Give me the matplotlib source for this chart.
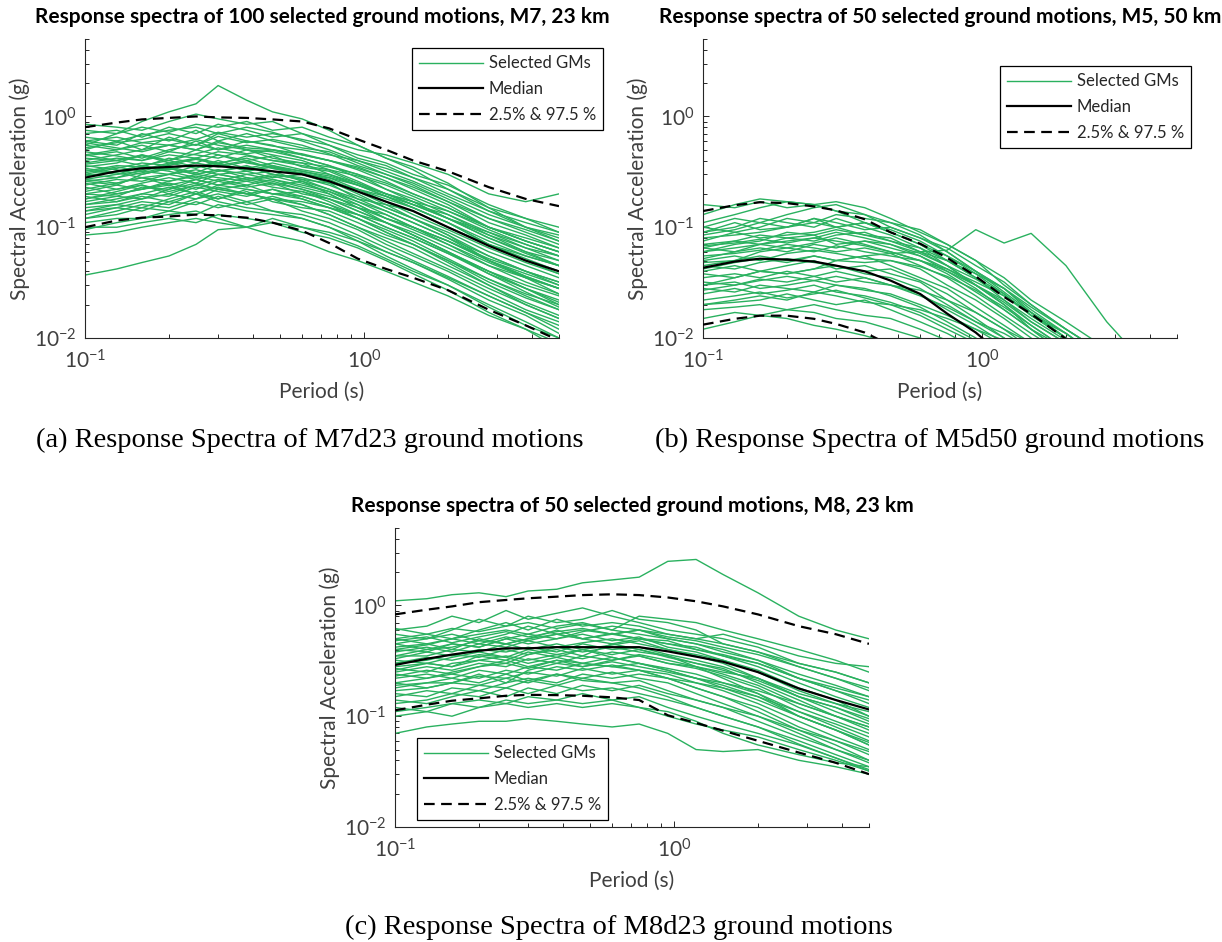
import matplotlib
matplotlib.use("Agg")
import matplotlib.pyplot as plt
from matplotlib.ticker import LogLocator, LogFormatterSciNotation, NullFormatter

# ---------------- data ----------------
T_GRID = [0.1, 0.13, 0.16, 0.2, 0.25, 0.3, 0.38, 0.47, 0.6, 0.75, 0.95, 1.2, 1.5, 2.0, 2.8, 3.8, 5.0]

MED_A = [.28, .32, .34, .35, .36, .355, .34, .32, .30, .26, .21, .17, .14, .10, .068, .05, .04]
P975_A = [.8, .88, .94, .97, 1.0, .98, .97, .94, .9, .78, .62, .5, .4, .32, .23, .18, .155]
P025_A = [.1, .115, .122, .125, .13, .128, .122, .11, .093, .072, .052, .042, .035, .027, .018, .013, .0095]
GM_A = [
    [.55, .7, .9, 1.1, 1.3, 1.9, 1.4, 1.1, .95, .75, .55, .42, .35, .25, .15, .1, .08],
    [.85, .8, .75, .9, 1.05, .95, .85, .9, .7, .6, .5, .45, .38, .3, .2, .17, .2],
    [.7, .75, .65, .8, .7, .85, .75, .65, .7, .55, .42, .36, .28, .22, .15, .12, .1],
    [.6, .55, .7, .6, .75, .6, .7, .6, .52, .48, .38, .3, .25, .18, .12, .09, .07],
    [.5, .6, .5, .65, .55, .7, .6, .55, .45, .4, .33, .26, .2, .15, .1, .075, .06],
    [.45, .5, .55, .48, .6, .5, .55, .5, .42, .36, .3, .22, .18, .13, .085, .065, .05],
    [.4, .45, .5, .55, .5, .6, .5, .45, .4, .33, .26, .2, .16, .12, .08, .06, .045],
    [.38, .42, .4, .48, .45, .42, .5, .42, .38, .3, .24, .19, .15, .11, .07, .052, .04],
    [.35, .38, .45, .4, .5, .45, .4, .44, .35, .32, .25, .2, .17, .12, .09, .065, .055],
    [.32, .36, .35, .42, .38, .45, .38, .35, .32, .28, .22, .17, .13, .095, .065, .048, .038],
    [.3, .34, .38, .36, .42, .38, .42, .36, .3, .26, .2, .15, .12, .085, .055, .04, .03],
    [.3, .28, .33, .38, .34, .4, .34, .38, .33, .3, .25, .2, .16, .12, .085, .06, .05],
    [.27, .3, .32, .3, .36, .32, .35, .3, .28, .24, .19, .15, .12, .09, .06, .045, .035],
    [.26, .24, .3, .34, .3, .33, .3, .32, .26, .22, .17, .13, .1, .075, .05, .036, .028],
    [.24, .27, .26, .3, .33, .3, .32, .28, .3, .26, .22, .18, .15, .11, .075, .055, .045],
    [.22, .25, .28, .26, .3, .28, .26, .29, .25, .21, .16, .12, .095, .07, .045, .032, .025],
    [.2, .22, .25, .28, .25, .3, .27, .24, .26, .2, .15, .13, .1, .075, .05, .038, .03],
    [.2, .19, .23, .22, .27, .24, .28, .25, .22, .19, .16, .12, .1, .07, .048, .035, .028],
    [.18, .2, .22, .25, .22, .26, .23, .25, .2, .18, .14, .11, .085, .06, .04, .028, .022],
    [.17, .19, .18, .22, .25, .22, .24, .2, .21, .17, .13, .1, .08, .058, .04, .03, .024],
    [.16, .18, .2, .19, .23, .21, .19, .22, .18, .15, .12, .095, .075, .052, .034, .024, .018],
    [.15, .16, .18, .2, .18, .22, .2, .18, .16, .13, .1, .08, .065, .045, .03, .021, .016],
    [.14, .15, .17, .16, .2, .18, .21, .17, .15, .14, .11, .085, .07, .05, .032, .023, .018],
    [.13, .15, .14, .17, .16, .19, .16, .18, .14, .12, .095, .07, .055, .04, .026, .018, .014],
    [.12, .13, .15, .14, .17, .15, .17, .14, .13, .11, .085, .065, .05, .036, .024, .017, .012],
    [.11, .12, .12, .14, .13, .16, .14, .13, .12, .1, .08, .06, .048, .034, .022, .016, .011],
    [.095, .11, .12, .13, .14, .12, .1, .12, .1, .085, .068, .052, .04, .03, .02, .014, .01],
    [.085, .09, .1, .11, .12, .11, .1, .085, .075, .06, .05, .04, .032, .024, .016, .012, .009],
    [.037, .042, .048, .055, .07, .095, .1, .11, .1, .09, .075, .06, .048, .035, .024, .017, .013],
    [.65, .6, .68, .75, .8, .7, .8, .72, .6, .5, .4, .32, .26, .19, .13, .1, .085],
    [.55, .5, .58, .62, .55, .66, .58, .62, .55, .46, .36, .3, .24, .17, .11, .085, .065],
    [.48, .44, .4, .45, .42, .48, .45, .4, .38, .35, .3, .25, .2, .15, .1, .08, .065],
    [.42, .4, .36, .4, .35, .38, .32, .35, .3, .25, .18, .14, .11, .08, .05, .036, .028],
    [.36, .33, .3, .34, .3, .33, .28, .26, .22, .18, .14, .11, .085, .06, .04, .028, .02],
    [.25, .22, .24, .2, .24, .22, .2, .22, .19, .16, .12, .09, .07, .048, .03, .02, .015],
    [.19, .17, .19, .17, .2, .17, .15, .14, .12, .1, .075, .055, .042, .03, .019, .013, .01],
    [.33, .3, .35, .32, .28, .32, .36, .3, .27, .22, .18, .16, .14, .1, .07, .055, .045],
    [.45, .4, .45, .38, .42, .36, .4, .34, .3, .28, .24, .2, .17, .14, .1, .075, .06],
    [.23, .2, .22, .24, .2, .23, .2, .18, .17, .15, .13, .11, .09, .065, .045, .035, .028],
    [.6, .65, .58, .55, .62, .55, .5, .48, .42, .36, .28, .22, .17, .12, .08, .058, .045],
    [.75, .7, .8, .72, .85, .8, .9, .75, .8, .65, .55, .42, .33, .22, .14, .1, .075],
    [.52, .58, .62, .7, .62, .72, .65, .7, .62, .55, .45, .38, .3, .24, .16, .12, .09],
    [.44, .48, .42, .5, .56, .5, .6, .54, .5, .45, .4, .34, .28, .2, .14, .11, .09],
    [.37, .4, .44, .4, .46, .52, .46, .5, .46, .4, .35, .28, .22, .16, .1, .075, .06],
    [.31, .35, .32, .37, .41, .37, .44, .4, .36, .33, .29, .24, .19, .14, .095, .07, .055],
    [.29, .32, .36, .33, .38, .35, .39, .34, .31, .27, .21, .16, .12, .085, .05, .035, .025],
    [.26, .28, .31, .35, .31, .37, .33, .36, .32, .29, .24, .19, .15, .11, .07, .05, .038],
    [.21, .24, .22, .26, .29, .26, .3, .27, .24, .21, .17, .14, .11, .08, .055, .04, .032],
    [.18, .21, .24, .21, .24, .27, .24, .27, .23, .2, .15, .11, .085, .06, .038, .026, .019],
    [.16, .17, .2, .23, .2, .24, .22, .2, .19, .16, .13, .1, .08, .058, .038, .028, .021],
    [.14, .16, .15, .18, .21, .18, .22, .2, .18, .15, .12, .09, .07, .05, .034, .025, .02],
    [.12, .14, .16, .15, .18, .2, .17, .19, .16, .13, .1, .075, .058, .042, .028, .02, .015],
    [.1, .1, .11, .12, .11, .13, .12, .11, .09, .08, .065, .05, .038, .027, .017, .012, .008],
    [.58, .52, .48, .55, .5, .58, .52, .5, .45, .4, .34, .28, .23, .17, .12, .095, .075],
    [.34, .31, .28, .3, .27, .3, .27, .3, .27, .25, .22, .19, .16, .13, .09, .07, .055],
    [.27, .25, .28, .24, .27, .24, .26, .23, .21, .18, .15, .12, .1, .075, .052, .04, .032],
]

MED_B = [.043, .049, .052, .051, .049, .045, .04, .033, .025, .0166, .0112, .0068, .0042, .0022, .001, .0005, .0003]
P975_B = [.14, .158, .168, .165, .154, .142, .118, .09, .071, .053, .036, .0235, .0165, .0098, .0055, .003, .002]
P025_B = [.0132, .0149, .0159, .0159, .0149, .0134, .0112, .0086, .006, .004, .0025, .0015, .001, .0005, .0003, .0002, .0001]
GM_B = [
    [.13, .16, .18, .17, .16, .17, .15, .12, .09, .07, .05, .03, .02, .012, .007, .004, .003],
    [.11, .13, .15, .17, .16, .14, .11, .09, .07, .05, .035, .025, .016, .01, .006, .004, .003],
    [.1, .12, .11, .13, .15, .16, .13, .1, .08, .06, .04, .028, .018, .011, .006, .004, .003],
    [.09, .1, .12, .11, .1, .12, .1, .085, .065, .045, .03, .02, .013, .008, .005, .003, .002],
    [.08, .085, .09, .1, .11, .1, .11, .09, .07, .055, .04, .028, .017, .01, .006, .004, .003],
    [.075, .09, .08, .085, .09, .1, .085, .08, .06, .045, .03, .02, .012, .007, .004, .003, .002],
    [.07, .075, .085, .08, .075, .085, .09, .075, .06, .05, .035, .022, .014, .009, .005, .003, .002],
    [.065, .06, .07, .08, .085, .07, .075, .065, .055, .04, .028, .018, .012, .007, .004, .003, .002],
    [.06, .065, .07, .065, .072, .08, .07, .06, .05, .038, .026, .018, .012, .008, .005, .003, .002],
    [.055, .058, .062, .07, .065, .06, .065, .058, .045, .035, .024, .016, .011, .007, .004, .003, .002],
    [.05, .055, .05, .058, .062, .058, .052, .05, .042, .03, .022, .015, .01, .006, .004, .002, .0015],
    [.048, .05, .055, .05, .055, .05, .055, .045, .035, .028, .019, .013, .009, .006, .004, .002, .0015],
    [.045, .042, .048, .052, .048, .045, .04, .042, .033, .025, .017, .012, .008, .005, .003, .002, .0015],
    [.04, .045, .04, .045, .05, .042, .045, .038, .032, .022, .015, .01, .007, .004, .003, .002, .001],
    [.038, .035, .04, .038, .042, .045, .038, .035, .028, .02, .014, .011, .008, .005, .003, .002, .001],
    [.035, .038, .035, .04, .036, .04, .035, .03, .025, .018, .013, .009, .006, .004, .002, .0015, .001],
    [.032, .03, .034, .032, .036, .032, .035, .03, .024, .019, .014, .01, .007, .004, .0025, .0015, .001],
    [.03, .032, .028, .03, .033, .03, .027, .025, .02, .016, .012, .0085, .006, .004, .0025, .0015, .001],
    [.028, .026, .03, .028, .026, .03, .028, .024, .019, .014, .01, .007, .005, .003, .002, .001, .001],
    [.025, .028, .025, .027, .03, .026, .024, .021, .017, .013, .0095, .007, .005, .003, .002, .001, .001],
    [.022, .024, .026, .023, .025, .027, .023, .02, .016, .012, .009, .006, .004, .0025, .0015, .001, .001],
    [.02, .021, .022, .025, .022, .02, .022, .018, .014, .011, .008, .006, .004, .0025, .0015, .001, .001],
    [.018, .019, .02, .018, .02, .018, .016, .015, .012, .0095, .007, .005, .0035, .002, .0015, .001, .001],
    [.015, .017, .016, .018, .017, .015, .014, .012, .01, .008, .006, .004, .003, .002, .001, .001, .001],
    [.012, .014, .016, .015, .013, .012, .0105, .009, .007, .005, .004, .003, .002, .001, .001, .001, .001],
    [.03, .035, .04, .038, .042, .05, .055, .058, .06, .062, .095, .072, .088, .045, .014, .006, .004],
    [.1, .09, .1, .12, .11, .13, .12, .11, .095, .07, .05, .035, .022, .014, .008, .005, .003],
    [.085, .095, .11, .1, .12, .11, .095, .1, .08, .065, .045, .032, .02, .012, .007, .004, .003],
    [.06, .07, .075, .09, .085, .095, .085, .075, .065, .05, .038, .028, .019, .012, .007, .004, .003],
    [.052, .06, .065, .06, .07, .065, .075, .07, .058, .045, .034, .024, .016, .011, .006, .004, .003],
    [.045, .05, .06, .065, .06, .068, .06, .055, .05, .042, .032, .024, .017, .011, .006, .004, .003],
    [.065, .075, .07, .075, .08, .075, .068, .06, .05, .04, .03, .022, .015, .0095, .006, .004, .002],
    [.16, .15, .17, .15, .16, .14, .13, .11, .085, .06, .04, .026, .017, .01, .006, .004, .003],
    [.09, .11, .095, .1, .12, .1, .11, .095, .075, .055, .038, .025, .016, .01, .006, .004, .003],
    [.068, .072, .078, .072, .08, .09, .08, .07, .055, .042, .03, .021, .014, .009, .005, .003, .002],
    [.042, .048, .052, .048, .055, .05, .048, .05, .044, .036, .027, .019, .013, .008, .005, .003, .002],
    [.027, .03, .033, .036, .033, .036, .032, .03, .027, .022, .017, .012, .009, .006, .004, .003, .002],
    [.02, .022, .024, .022, .026, .024, .021, .02, .018, .015, .012, .0095, .007, .005, .003, .002, .001],
]

MED_C = [.29, .33, .36, .39, .41, .41, .42, .42, .42, .42, .385, .345, .31, .25, .178, .14, .115]
P975_C = [.83, .915, .98, 1.07, 1.12, 1.16, 1.2, 1.24, 1.26, 1.24, 1.18, 1.09, .98, .83, .65, .55, .45]
P025_C = [.113, .127, .138, .145, .153, .156, .155, .153, .148, .14, .102, .087, .074, .06, .047, .038, .03]
GM_C = [
    [1.1, 1.15, 1.25, 1.3, 1.2, 1.35, 1.4, 1.6, 1.7, 1.8, 2.5, 2.6, 1.9, 1.3, .8, .6, .5],
    [.07, .08, .085, .09, .09, .095, .09, .085, .08, .085, .07, .05, .048, .05, .04, .035, .03],
    [.6, .65, .8, .7, .9, .75, .85, .95, .8, .7, .6, .55, .5, .42, .3, .25, .2],
    [.55, .5, .6, .75, .65, .8, .7, .75, .9, .75, .7, .6, .45, .38, .28, .22, .18],
    [.5, .55, .5, .6, .7, .6, .75, .65, .7, .65, .55, .5, .55, .45, .35, .3, .28],
    [.45, .5, .55, .48, .55, .65, .55, .6, .55, .6, .5, .45, .38, .32, .22, .17, .13],
    [.42, .45, .4, .5, .45, .5, .6, .5, .55, .5, .45, .42, .35, .28, .2, .15, .12],
    [.4, .38, .45, .42, .5, .45, .5, .55, .48, .52, .42, .38, .32, .26, .18, .14, .1],
    [.38, .42, .38, .45, .42, .48, .42, .46, .5, .45, .4, .35, .3, .22, .15, .11, .085],
    [.35, .35, .4, .38, .45, .4, .45, .4, .44, .48, .4, .36, .32, .25, .17, .13, .1],
    [.33, .38, .35, .4, .38, .42, .38, .45, .4, .42, .36, .32, .28, .22, .15, .12, .09],
    [.3, .32, .36, .34, .4, .36, .42, .38, .42, .38, .35, .3, .27, .2, .14, .1, .075],
    [.28, .3, .28, .35, .32, .38, .34, .4, .36, .4, .34, .3, .26, .21, .15, .12, .095],
    [.27, .25, .3, .32, .35, .32, .36, .33, .38, .35, .3, .27, .23, .18, .12, .09, .07],
    [.25, .28, .26, .3, .28, .33, .3, .35, .32, .36, .32, .28, .24, .19, .13, .1, .08],
    [.24, .22, .25, .28, .3, .27, .32, .3, .34, .3, .27, .24, .2, .16, .11, .08, .06],
    [.22, .24, .22, .26, .24, .28, .26, .3, .28, .3, .26, .22, .19, .15, .1, .075, .058],
    [.2, .22, .24, .22, .26, .24, .28, .26, .29, .26, .24, .2, .17, .13, .09, .065, .05],
    [.19, .2, .2, .23, .22, .25, .23, .27, .24, .26, .22, .18, .15, .12, .08, .06, .045],
    [.17, .18, .2, .19, .22, .2, .24, .22, .25, .22, .2, .16, .13, .1, .07, .05, .04],
    [.15, .17, .16, .19, .18, .21, .19, .22, .2, .21, .17, .14, .12, .09, .065, .05, .038],
    [.13, .14, .16, .15, .18, .16, .19, .17, .18, .16, .14, .12, .1, .08, .06, .045, .035],
    [.12, .11, .13, .14, .13, .15, .14, .16, .14, .15, .12, .1, .085, .07, .055, .042, .033],
    [.1, .11, .1, .12, .13, .12, .13, .12, .13, .12, .1, .085, .075, .065, .05, .04, .032],
    [.5, .45, .5, .55, .6, .55, .65, .7, .6, .8, .75, .7, .6, .5, .4, .32, .25],
    [.35, .4, .45, .42, .5, .55, .5, .58, .65, .6, .55, .5, .45, .38, .3, .25, .2],
    [.26, .3, .28, .32, .3, .36, .4, .35, .45, .5, .45, .4, .35, .3, .22, .18, .15],
    [.2, .18, .2, .24, .2, .26, .3, .28, .32, .35, .3, .28, .25, .22, .16, .13, .11],
    [.16, .15, .18, .17, .2, .22, .2, .24, .22, .24, .22, .2, .18, .15, .11, .085, .065],
    [.45, .4, .42, .48, .45, .5, .55, .5, .45, .4, .35, .28, .22, .16, .1, .075, .055],
    [.3, .34, .32, .36, .34, .3, .34, .3, .28, .26, .22, .18, .15, .11, .075, .055, .04],
    [.62, .55, .62, .58, .65, .7, .62, .68, .6, .55, .5, .45, .4, .32, .24, .19, .15],
    [.4, .44, .5, .45, .52, .48, .55, .5, .56, .5, .48, .4, .36, .3, .22, .17, .14],
    [.32, .3, .34, .38, .34, .4, .36, .4, .34, .3, .26, .22, .18, .14, .1, .075, .055],
    [.23, .26, .24, .28, .32, .28, .32, .28, .31, .28, .25, .22, .2, .17, .13, .1, .08],
    [.18, .2, .22, .2, .24, .21, .24, .21, .2, .18, .15, .12, .1, .08, .056, .042, .032],
    [.14, .13, .15, .17, .15, .18, .16, .19, .17, .19, .16, .14, .12, .1, .075, .06, .048],
    [.48, .52, .46, .52, .58, .52, .58, .62, .55, .6, .52, .48, .42, .36, .28, .22, .17],
    [.11, .12, .13, .12, .14, .13, .14, .13, .14, .12, .11, .09, .07, .055, .045, .038, .035],
]

TITLES = [
    "Response spectra of 100 selected ground motions, M7, 23 km",
    "Response spectra of 50 selected ground motions, M5, 50 km",
    "Response spectra of 50 selected ground motions, M8, 23 km",
]
CAPTIONS = [
    "(a) Response Spectra of M7d23 ground motions",
    "(b) Response Spectra of M5d50 ground motions",
    "(c) Response Spectra of M8d23 ground motions",
]
LEGEND_LABELS = ["Selected GMs", "Median", "2.5% & 97.5 %"]
XLABEL = "Period (s)"
YLABEL = "Spectral Acceleration (g)"

# ---------------- style ----------------
W, H = 1222, 942
SANS = ["Lato", "DejaVu Sans"]
plt.rcParams["font.family"] = SANS
plt.rcParams["mathtext.fontset"] = "custom"
plt.rcParams["mathtext.rm"] = "Lato"
plt.rcParams["mathtext.it"] = "Lato:italic"
plt.rcParams["mathtext.bf"] = "Lato:bold"

GREEN = "#2AB15F"
GREY = "#404040"
SPINE = "#262626"
DASH = (0, (4.8, 2.9))

fig = plt.figure(figsize=(W / 100, H / 100), dpi=100)


def fx(x):
    return x / W


def fy(y):
    return 1 - y / H


def rect(x0, y0, x1, y1):
    return [x0 / W, 1 - y1 / H, (x1 - x0) / W, (y1 - y0) / H]


PANELS = [
    dict(box=(85, 39, 559, 338), gm=GM_A, med=MED_A, hi=P975_A, lo=P025_A,
         leg=(412, 48), title_y=17, cap=(310, 440)),
    dict(box=(703, 39, 1177, 338), gm=GM_B, med=MED_B, hi=P975_B, lo=P025_B,
         leg=(1000, 66), title_y=17, cap=(930, 440)),
    dict(box=(395, 528, 869, 827), gm=GM_C, med=MED_C, hi=P975_C, lo=P025_C,
         leg=(417, 738), title_y=506, cap=(619, 927)),
]

for i, p in enumerate(PANELS):
    x0, y0, x1, y1 = p["box"]
    ax = fig.add_axes(rect(*p["box"]))
    ax.set_xscale("log")
    ax.set_yscale("log")
    gm_handle = None
    for curve in p["gm"]:
        (ln,) = ax.plot(T_GRID, curve, color=GREEN, lw=1.0, zorder=2)
        if gm_handle is None:
            gm_handle = ln
    (med_h,) = ax.plot(T_GRID, p["med"], color="black", lw=1.6, zorder=4)
    (hi_h,) = ax.plot(T_GRID, p["hi"], color="black", lw=1.6, ls=DASH, zorder=4)
    ax.plot(T_GRID, p["lo"], color="black", lw=1.6, ls=DASH, zorder=4)
    ax.set_xlim(0.1, 5)
    ax.set_ylim(0.01, 5)

    for s in ("top", "right"):
        ax.spines[s].set_visible(False)
    for s in ("left", "bottom"):
        ax.spines[s].set_color(SPINE)
        ax.spines[s].set_linewidth(0.8)

    ax.xaxis.set_major_locator(LogLocator(base=10, numticks=10))
    ax.yaxis.set_major_locator(LogLocator(base=10, numticks=10))
    ax.xaxis.set_minor_locator(LogLocator(base=10, subs=range(2, 10), numticks=20))
    ax.yaxis.set_minor_locator(LogLocator(base=10, subs=range(2, 10), numticks=20))
    ax.xaxis.set_major_formatter(LogFormatterSciNotation())
    ax.yaxis.set_major_formatter(LogFormatterSciNotation())
    ax.xaxis.set_minor_formatter(NullFormatter())
    ax.yaxis.set_minor_formatter(NullFormatter())
    ax.tick_params(which="both", direction="in", color=SPINE, width=0.7,
                   top=False, right=False, labelcolor=GREY, labelsize=15)
    ax.tick_params(which="major", length=4)
    ax.tick_params(which="minor", length=3)
    ax.tick_params(axis="x", which="major", pad=8)
    ax.tick_params(axis="y", which="major", pad=6)

    cx = (x0 + x1) / 2
    cy = (y0 + y1) / 2
    fig.text(fx(cx), fy(p["title_y"]), TITLES[i], ha="center", va="center",
             fontsize=15, fontweight="bold", color="black")
    fig.text(fx(cx), fy(y1 + 54), XLABEL, ha="center", va="center",
             fontsize=15, color=GREY)
    fig.text(fx(x0 - 65), fy(cy), YLABEL, ha="center", va="center",
             rotation=90, fontsize=15, color=GREY)
    fig.text(fx(p["cap"][0]), fy(p["cap"][1]), CAPTIONS[i], ha="center",
             va="center", fontsize=20.5, family=["Liberation Serif", "DejaVu Serif"],
             color="black")

    lx, ly = p["leg"]
    leg = ax.legend([gm_handle, med_h, hi_h], LEGEND_LABELS, loc="upper left",
                    bbox_to_anchor=(fx(lx), fy(ly)), bbox_transform=fig.transFigure,
                    borderaxespad=0, fontsize=12, frameon=True, fancybox=False,
                    framealpha=1, edgecolor="black", handlelength=3.8,
                    handletextpad=0.36, labelspacing=0.58, borderpad=0.44)
    leg.get_frame().set_linewidth(0.9)
    for t in leg.get_texts():
        t.set_color("#262626")
    leg.set_zorder(10)

fig.savefig("out.png", dpi=100)
